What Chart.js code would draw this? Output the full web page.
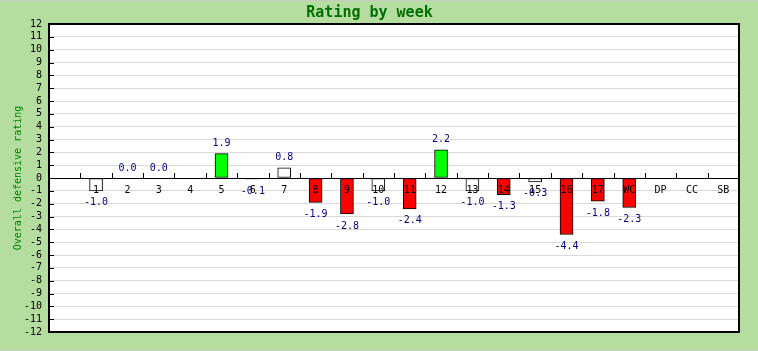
<!DOCTYPE html>
<html>
<head>
<meta charset="utf-8">
<script src="https://cdn.jsdelivr.net/npm/chart.js@4.4.1/dist/chart.umd.min.js"></script>
<style>
    html, body { margin: 0; padding: 0; background: #c8c8c8; }
    #wrap { width: 758px; height: 351px; padding-top: 1px; box-sizing: border-box; background: #c8c8c8; }
    canvas { display: block; background: #b5dda0; }
</style>
</head>
<body>
<div id="wrap">
    <canvas id="ratingChart" width="758" height="349"></canvas>
</div>
<script>
// Week labels (first slot is an empty pre-season slot)
const weeks = ['', '1', '2', '3', '4', '5', '6', '7', '8', '9', '10', '11', '12',
    '13', '14', '15', '16', '17', 'WC', 'DP', 'CC', 'SB'];

// Overall defensive rating per week (null = no game)
const ratings = [null, -1.0, 0.0, 0.0, null, 1.9, -0.1, 0.8, -1.9, -2.8, -1.0, -2.4, 2.2,
    -1.0, -1.3, -0.3, -4.4, -1.8, -2.3, null, null, null];

const yMin = -12;
const yMax = 12;

const monoFont = '"DejaVu Sans Mono", "Liberation Mono", monospace';

function barColor(v) {
    if (v === null) return '#ffffff';
    if (v > 1) return '#00ff00';
    if (v < -1) return '#ff0000';
    return '#ffffff';
}

// White plot background, frame, tick marks, week labels and value labels
const decorPlugin = {
    id: 'decor',
    beforeDraw(chart) {
        const a = chart.chartArea;
        const ctx = chart.ctx;
        ctx.save();
        ctx.fillStyle = '#ffffff';
        ctx.fillRect(a.left, a.top, a.right - a.left, a.bottom - a.top);
        ctx.restore();
    },
    afterDatasetsDraw(chart) {
        const ctx = chart.ctx;
        const area = chart.chartArea;
        const x = chart.scales.x;
        const y = chart.scales.y;
        const zeroY = y.getPixelForValue(0);

        ctx.save();
        ctx.strokeStyle = '#000';
        ctx.lineWidth = 1;

        // x tick marks between categories, above the zero line
        ctx.beginPath();
        for (let i = 0; i < weeks.length - 1; i++) {
            const px = Math.round((x.getPixelForValue(i) + x.getPixelForValue(i + 1)) / 2) + 0.5;
            ctx.moveTo(px, zeroY - 5);
            ctx.lineTo(px, zeroY);
        }
        // y tick marks inside the plot
        for (let v = yMin; v <= yMax; v++) {
            const py = Math.round(y.getPixelForValue(v)) + 0.5;
            ctx.moveTo(area.left, py);
            ctx.lineTo(area.left + 5, py);
        }
        ctx.stroke();

        // zero line
        ctx.beginPath();
        ctx.moveTo(area.left, Math.round(zeroY) + 0.5);
        ctx.lineTo(area.right, Math.round(zeroY) + 0.5);
        ctx.stroke();

        ctx.font = '10px ' + monoFont;
        ctx.textAlign = 'center';
        ctx.textBaseline = 'middle';

        // week labels just below the zero line, over the bars
        ctx.fillStyle = '#000';
        weeks.forEach((w, i) => {
            ctx.fillText(w, x.getPixelForValue(i), zeroY + 12);
        });

        // value labels
        ctx.fillStyle = '#000080';
        const meta = chart.getDatasetMeta(0);
        meta.data.forEach((bar, i) => {
            const v = ratings[i];
            if (v === null) return;
            const ty = v >= 0 ? bar.y - 10 : bar.y + 12;
            ctx.fillText(v.toFixed(1), bar.x, ty);
        });

        // plot frame
        ctx.lineWidth = 2;
        ctx.strokeRect(area.left, area.top, area.right - area.left, area.bottom - area.top);
        ctx.restore();
    }
};

const ctx = document.getElementById('ratingChart').getContext('2d');
const chart = new Chart(ctx, {
    type: 'bar',
    data: {
        labels: weeks,
        datasets: [{
            data: ratings,
            backgroundColor: ratings.map(barColor),
            borderColor: '#000',
            borderWidth: 1,
            borderSkipped: false,
            barThickness: 13
        }]
    },
    options: {
        responsive: false,
        animation: false,
        devicePixelRatio: 1,
        layout: {
            padding: { left: 0, right: 19, top: 0, bottom: 18 }
        },
        plugins: {
            legend: { display: false },
            tooltip: { enabled: false },
            title: {
                display: true,
                text: 'Rating by week',
                color: '#006e00',
                font: { family: monoFont, size: 15, weight: 'bold' },
                padding: { top: 3, bottom: 2 }
            }
        },
        scales: {
            x: {
                position: { y: 0 },
                grid: { display: false, drawTicks: false },
                border: { display: false },
                ticks: { display: false }
            },
            y: {
                min: yMin,
                max: yMax,
                afterFit(scale) { scale.width = 49; },
                grid: { color: '#d9d9d9', drawTicks: false },
                border: { display: false },
                ticks: {
                    stepSize: 1,
                    autoSkip: false,
                    color: '#000',
                    padding: 7,
                    font: { family: monoFont, size: 10 }
                },
                title: {
                    display: true,
                    text: 'Overall defensive rating',
                    color: '#008000',
                    font: { family: monoFont, size: 10 },
                    padding: { top: 12, bottom: 0 }
                }
            }
        }
    },
    plugins: [decorPlugin]
});
</script>
</body>
</html>
